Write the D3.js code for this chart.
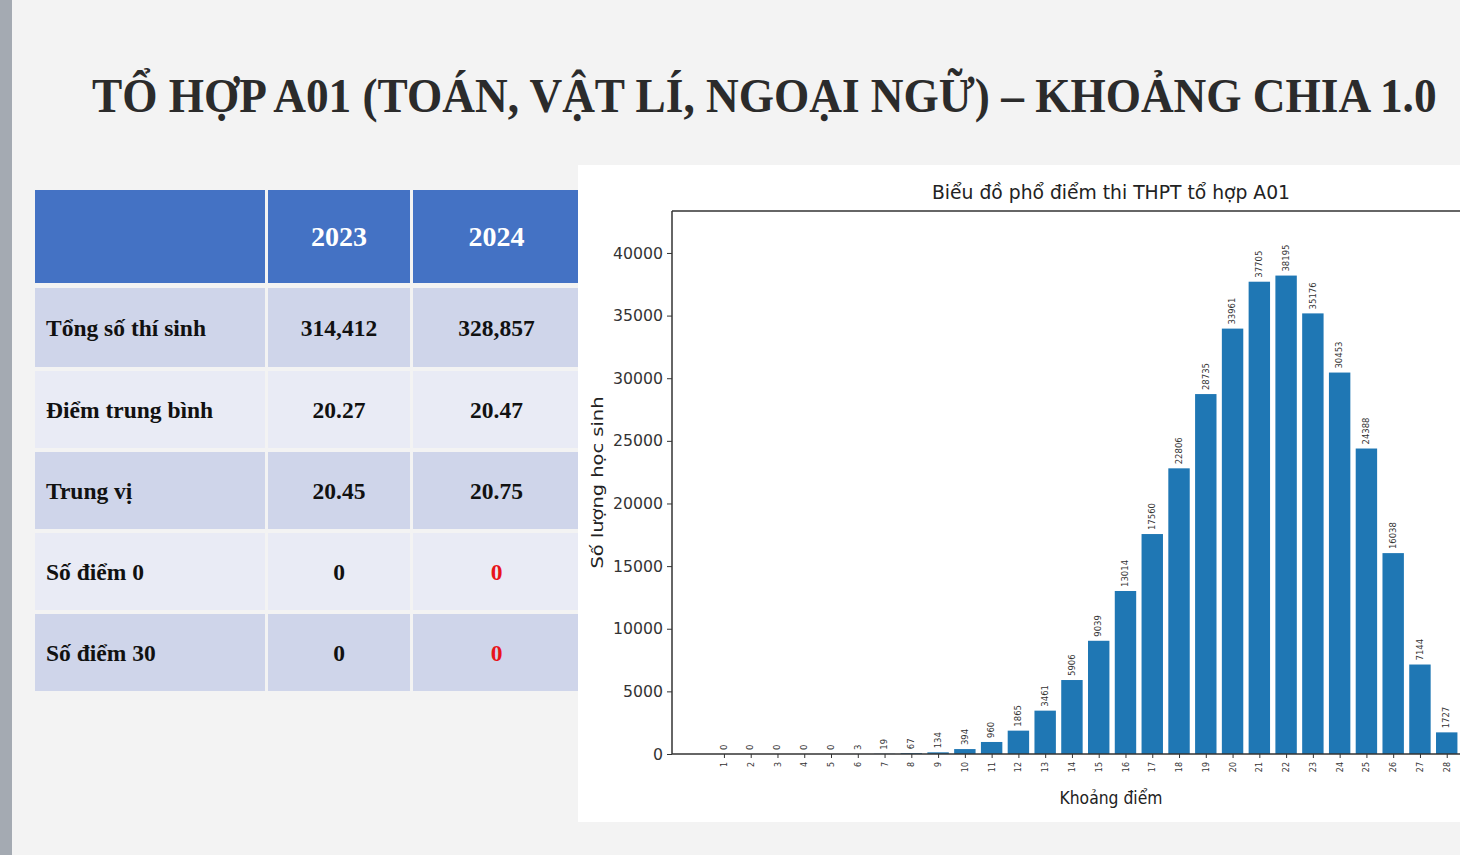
<!DOCTYPE html>
<html>
<head>
<meta charset="utf-8">
<script src="https://cdn.jsdelivr.net/npm/d3@7"></script>
<style>
  body { margin: 0; background: #f3f3f3; overflow: hidden; }
  svg { display: block; }
</style>
</head>
<body>
<div id="container"></div>
<script>
// data
var scores = [1, 2, 3, 4, 5, 6, 7, 8, 9, 10, 11, 12, 13, 14, 15, 16, 17, 18, 19, 20, 21, 22, 23, 24, 25, 26, 27, 28];
var counts = [0, 0, 0, 0, 0, 3, 19, 67, 134, 394, 960, 1865, 3461, 5906, 9039, 13014, 17560, 22806, 28735, 33961, 37705, 38195, 35176, 30453, 24388, 16038, 7144, 1727];
var yTicks = [0, 5000, 10000, 15000, 20000, 25000, 30000, 35000, 40000];

var years = ["2023", "2024"];
var rowLabels = ["Tổng số thí sinh", "Điểm trung bình", "Trung vị", "Số điểm 0", "Số điểm 30"];
var values2023 = ["314,412", "20.27", "20.45", "0", "0"];
var values2024 = ["328,857", "20.47", "20.75", "0", "0"];

var W = 1460, H = 855;

var svg = d3.select("#container").append("svg")
  .attr("width", W)
  .attr("height", H);

// slide background + left stripe
svg.append("rect").attr("width", W).attr("height", H).attr("fill", "#f3f3f3");
svg.append("rect").attr("width", 12).attr("height", H).attr("fill", "#a4aab2");

// slide title, squeezed horizontally to the width it has on the slide
var title = svg.append("text")
  .style("font-family", "'Liberation Serif', 'Times New Roman', serif")
  .style("font-weight", "bold")
  .style("font-size", "48px")
  .style("fill", "#2b2b2b")
  .text("TỔ HỢP A01 (TOÁN, VẬT LÍ, NGOẠI NGỮ) – KHOẢNG CHIA 1.0");
var titleW = title.node().getComputedTextLength();
title.attr("transform", "translate(92,112) scale(" + (1345 / titleW) + ",1)");

// ---- table ----
var cols = [{x0: 35, x1: 265}, {x0: 268, x1: 410}, {x0: 413, x1: 580}];
var headerBand = {y0: 190, y1: 283};
var rowBands = [
  {y0: 288, y1: 367}, {y0: 371, y1: 448}, {y0: 452, y1: 529},
  {y0: 533, y1: 610}, {y0: 614, y1: 691}
];
var serif = "'Liberation Serif', 'Times New Roman', serif";

var table = svg.append("g").attr("class", "table");

table.selectAll(".hcell")
  .data(cols).enter()
  .append("rect")
    .attr("class", "hcell")
    .attr("x", function(d) { return d.x0; })
    .attr("y", headerBand.y0)
    .attr("width", function(d) { return d.x1 - d.x0; })
    .attr("height", headerBand.y1 - headerBand.y0)
    .attr("fill", "#4472c4");

table.selectAll(".htext")
  .data(years).enter()
  .append("text")
    .attr("class", "htext")
    .attr("x", function(d, i) { return (cols[i + 1].x0 + cols[i + 1].x1) / 2; })
    .attr("y", (headerBand.y0 + headerBand.y1) / 2)
    .attr("dy", "0.35em")
    .attr("text-anchor", "middle")
    .style("font-family", serif)
    .style("font-weight", "bold")
    .style("font-size", "28px")
    .style("fill", "#ffffff")
    .text(function(d) { return d; });

var rows = table.selectAll(".row")
  .data(rowLabels).enter()
  .append("g")
    .attr("class", "row");

rows.each(function(label, r) {
  var g = d3.select(this);
  var band = rowBands[r];
  var fill = r % 2 == 0 ? "#cfd5ea" : "#e9ebf5";
  cols.forEach(function(c) {
    g.append("rect")
      .attr("x", c.x0).attr("y", band.y0)
      .attr("width", c.x1 - c.x0).attr("height", band.y1 - band.y0)
      .attr("fill", fill);
  });
  var cy = (band.y0 + band.y1) / 2;
  g.append("text")
    .attr("x", 46).attr("y", cy).attr("dy", "0.35em")
    .style("font-family", serif).style("font-weight", "bold")
    .style("font-size", "23.5px").style("fill", "#111")
    .text(label);
  [values2023[r], values2024[r]].forEach(function(v, j) {
    var c = cols[j + 1];
    // the 2024 zero counts are red in the slide
    var red = j == 1 && r >= 3;
    g.append("text")
      .attr("x", (c.x0 + c.x1) / 2).attr("y", cy).attr("dy", "0.35em")
      .attr("text-anchor", "middle")
      .style("font-family", serif).style("font-weight", "bold")
      .style("font-size", "23.5px").style("fill", red ? "#e8141b" : "#111")
      .text(v);
  });
});

// ---- bar chart ----
var sans = "'DejaVu Sans', sans-serif";
svg.append("rect")
  .attr("x", 578).attr("y", 165)
  .attr("width", W - 578).attr("height", 822 - 165)
  .attr("fill", "#ffffff");

var plotLeft = 672, plotTop = 211, plotBottom = 754;

var x = d3.scaleLinear().domain([-0.94, 31.9]).range([plotLeft, plotLeft + 32.84 * 26.77]);
var y = d3.scaleLinear().domain([0, 43350]).range([plotBottom, plotTop]);
var barW = x(0.8) - x(0);

var chart = svg.append("g").attr("id", "barChart");

chart.selectAll(".bar")
  .data(counts).enter()
  .append("rect")
    .attr("class", "bar")
    .attr("x", function(d, i) { return x(scores[i]) - barW / 2; })
    .attr("y", function(d) { return y(d); })
    .attr("width", barW)
    .attr("height", function(d) { return plotBottom - y(d); })
    .attr("fill", "#1f77b4");

// value labels, rotated like matplotlib's rotation=90
chart.selectAll(".vlabel")
  .data(counts).enter()
  .append("text")
    .attr("class", "vlabel")
    .attr("transform", function(d, i) { return "translate(" + x(scores[i]) + "," + (y(d) - 4) + ") rotate(-90)"; })
    .attr("dy", "0.32em")
    .style("font-family", sans)
    .style("font-size", "8.5px")
    .style("fill", "#333")
    .text(function(d) { return d; });

// axes
var yAxis = d3.axisLeft(y).tickValues(yTicks).tickSize(5).tickPadding(4).tickFormat(d3.format("d"));
var gy = chart.append("g")
  .attr("transform", "translate(" + plotLeft + ",0)")
  .call(yAxis);
gy.select(".domain").remove();
gy.selectAll("text")
  .attr("textLength", function(d) { return String(d).length * 10; })
  .attr("lengthAdjust", "spacingAndGlyphs")
  .style("font-family", sans).style("font-size", "16px").style("fill", "#333");
gy.selectAll("line").attr("stroke", "#333");

var xAxis = d3.axisBottom(x).tickValues(scores).tickSize(4).tickFormat(d3.format("d"));
var gx = chart.append("g")
  .attr("transform", "translate(0," + plotBottom + ")")
  .call(xAxis);
gx.select(".domain").remove();
gx.selectAll("line").attr("stroke", "#333");
gx.selectAll("text")
  .attr("transform", "rotate(-90)")
  .attr("text-anchor", "end")
  .attr("x", -8).attr("y", 0).attr("dy", "0.32em")
  .style("font-family", sans).style("font-size", "8px").style("fill", "#333");

// spines
chart.append("line")
  .attr("x1", plotLeft).attr("x2", plotLeft).attr("y1", plotTop).attr("y2", plotBottom)
  .attr("stroke", "#333").attr("stroke-width", 1.5);
chart.append("line")
  .attr("x1", plotLeft).attr("x2", x.range()[1]).attr("y1", plotTop).attr("y2", plotTop)
  .attr("stroke", "#333").attr("stroke-width", 1.5);
chart.append("line")
  .attr("x1", plotLeft).attr("x2", x.range()[1]).attr("y1", plotBottom).attr("y2", plotBottom)
  .attr("stroke", "#333").attr("stroke-width", 1.5);

// titles
chart.append("text")
  .attr("x", 1111).attr("y", 199)
  .attr("text-anchor", "middle")
  .attr("textLength", 358).attr("lengthAdjust", "spacingAndGlyphs")
  .style("font-family", sans).style("font-size", "19px").style("fill", "#222")
  .text("Biểu đồ phổ điểm thi THPT tổ hợp A01");

chart.append("text")
  .attr("x", 1111).attr("y", 804)
  .attr("text-anchor", "middle")
  .attr("textLength", 103).attr("lengthAdjust", "spacingAndGlyphs")
  .style("font-family", sans).style("font-size", "17px").style("fill", "#222")
  .text("Khoảng điểm");

chart.append("text")
  .attr("transform", "translate(603," + (plotTop + plotBottom) / 2 + ") rotate(-90)")
  .attr("text-anchor", "middle")
  .attr("textLength", 172).attr("lengthAdjust", "spacingAndGlyphs")
  .style("font-family", sans).style("font-size", "16px").style("fill", "#222")
  .text("Số lượng học sinh");
</script>
</body>
</html>
